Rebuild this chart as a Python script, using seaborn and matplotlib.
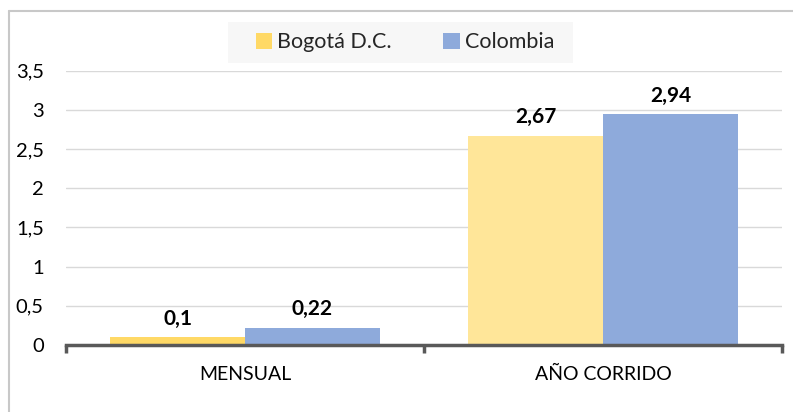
import matplotlib
matplotlib.use("Agg")
import matplotlib.pyplot as plt
import seaborn as sns
import pandas as pd
from matplotlib.lines import Line2D
from matplotlib.patches import Patch, Rectangle

categories = ["MENSUAL", "AÑO CORRIDO"]
series = ["Bogotá D.C.", "Colombia"]
bogota = [0.1, 2.67]
colombia = [0.22, 2.94]
yticks = [0, 0.5, 1, 1.5, 2, 2.5, 3, 3.5]

bar_colors = {("Bogotá D.C.", "MENSUAL"): "#FFD966",
              ("Bogotá D.C.", "AÑO CORRIDO"): "#FFE699",
              ("Colombia", "MENSUAL"): "#8EAADB",
              ("Colombia", "AÑO CORRIDO"): "#8EAADB"}
legend_colors = {"Bogotá D.C.": "#FFD966", "Colombia": "#8EAADB"}

df = pd.DataFrame({
    "cat": categories * 2,
    "serie": [series[0]] * 2 + [series[1]] * 2,
    "val": bogota + colombia,
})

sns.set_theme(style="white")
plt.rcParams["font.family"] = ["Lato", "DejaVu Sans"]

fig = plt.figure(figsize=(7.93, 4.12), dpi=100)
ax = fig.add_axes([66/793, 1-345/412, (782-66)/793, (345-70.5)/412])

sns.barplot(data=df, x="cat", y="val", hue="serie", order=categories,
            hue_order=series, palette=legend_colors, width=0.754, gap=0,
            ax=ax, legend=False, saturation=1)

# recolor per bar and label
for cont, s in zip(ax.containers, series):
    for bar, c in zip(cont, categories):
        bar.set_facecolor(bar_colors[(s, c)])
        bar.set_edgecolor("none")
    labels = [f"{v:g}".replace(".", ",") for v in cont.datavalues]
    ax.bar_label(cont, labels=labels, padding=6, fontsize=15,
                 fontweight="bold", color="black")

ax.set_ylim(0, 3.5)
ax.set_xlim(-0.5, 1.5)
ax.set_yticks(yticks)
ax.set_yticklabels([f"{v:g}".replace(".", ",") for v in yticks], fontsize=14.5)
ax.yaxis.grid(True, color="#D9D9D9", linewidth=1)
ax.set_axisbelow(True)
ax.set_xlabel("")
ax.set_ylabel("")
for sp in ["top", "right", "left"]:
    ax.spines[sp].set_visible(False)
ax.spines["bottom"].set_color("#595959")
ax.spines["bottom"].set_linewidth(2.5)
ax.tick_params(axis="y", length=0, pad=16, labelcolor="black")
ax.tick_params(axis="x", which="major", length=0, pad=15, labelsize=14,
               labelcolor="black")
ax.set_xticks([-0.5, 0.5, 1.5], minor=True)
ax.tick_params(axis="x", which="minor", bottom=True, length=6, width=2.5,
               color="#595959", direction="out")

# legend background box
fig.add_artist(Rectangle((228/793, 1-63/412), (573-228)/793, 41/412,
                         transform=fig.transFigure, facecolor="#F7F7F7",
                         edgecolor="none", zorder=0))
handles = [Patch(facecolor=legend_colors[s], edgecolor="none") for s in series]
leg = fig.legend(handles, series, loc="center", bbox_to_anchor=(405/793, 1-42.5/412),
                 ncol=2, frameon=False, fontsize=15.5, handlelength=0.75,
                 handleheight=0.75, handletextpad=0.25, columnspacing=2.4,
                 borderpad=0.3, borderaxespad=0)

# chart border (top and left)
fig.add_artist(Line2D([9/793, 1], [1-10.5/412, 1-10.5/412], color="#C8C8C8",
                      linewidth=1.5, transform=fig.transFigure))
fig.add_artist(Line2D([9/793, 9/793], [0, 1-10.5/412], color="#C8C8C8",
                      linewidth=1.5, transform=fig.transFigure))

fig.savefig("out.png", dpi=100)
